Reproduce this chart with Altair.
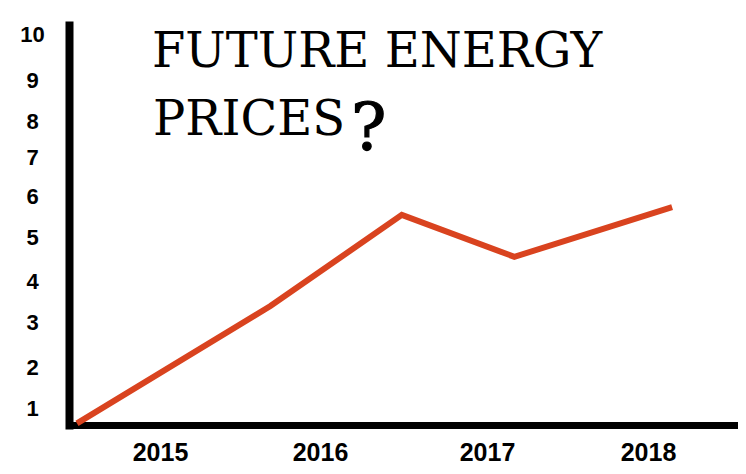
import altair as alt
import pandas as pd

# Data
years = [2014.48, 2015.69, 2016.49, 2017.17, 2018.15]
prices = [0.63, 3.39, 5.54, 4.55, 5.73]

x_ticks = [2015, 2016, 2017, 2018]
y_ticks = [1, 2, 3, 4, 5, 6, 7, 8, 9, 10]

# hand-drawn, uneven axis spacing (piecewise scales)
x_domain = [2014.43, 2015, 2016, 2017, 2018, 2018.56]
x_range = [0, 91, 251, 418, 579, 669]
y_domain = [0.59, 1, 2, 3, 4, 5, 6, 7, 8, 9, 10, 10.2]
y_range = [400, 383, 342, 297, 256, 212, 171, 132, 96, 55, 9, 0]

title_lines = ["FUTURE ENERGY", "PRICES"]
title_mark = "?"

W, H = 669, 400

df = pd.DataFrame({"year": years, "price": prices})

line = alt.Chart(df).mark_line(
    color="#d9431f", strokeWidth=6, strokeJoin="miter", strokeCap="butt"
).encode(
    x=alt.X("year:Q",
            scale=alt.Scale(domain=x_domain, range=x_range, zero=False, nice=False),
            axis=alt.Axis(values=x_ticks, format="d", title=None,
                          labelFontSize=25, labelBaseline="alphabetic",
                          labelPadding=35, domainWidth=7)),
    y=alt.Y("price:Q",
            scale=alt.Scale(domain=y_domain, range=y_range, zero=False, nice=False),
            axis=alt.Axis(values=y_ticks, format="d", title=None,
                          labelFontSize=22, labelAlign="center",
                          labelBaseline="middle", labelPadding=37, domainWidth=8)),
)

t1 = alt.Chart(pd.DataFrame({"t": [title_lines[0]]})).mark_text(
    font="DejaVu Serif", fontSize=48, align="left", baseline="alphabetic", color="black"
).encode(text="t:N", x=alt.value(83), y=alt.value(42))

t2 = alt.Chart(pd.DataFrame({"t": [title_lines[1]]})).mark_text(
    font="DejaVu Serif", fontSize=48, align="left", baseline="alphabetic", color="black"
).encode(text="t:N", x=alt.value(84), y=alt.value(110))

t3 = alt.Chart(pd.DataFrame({"t": [title_mark]})).mark_text(
    font="DejaVu Serif", fontSize=66, align="left",
    baseline="alphabetic", color="black", stroke="black", strokeWidth=1.2
).encode(text="t:N", x=alt.value(282), y=alt.value(125))

chart = alt.layer(line, t1, t2, t3).properties(
    width=W, height=H,
    autosize=alt.AutoSizeParams(type="none"),
    padding={"left": 61, "top": 17, "right": 0, "bottom": 41},
    background="white",
).configure_view(stroke=None).configure_axis(
    grid=False, ticks=False, tickSize=0, domainColor="black", domainCap="square",
    labelFont="Liberation Sans", labelFontWeight="bold", labelColor="black",
    labelOverlap=False, labelFlush=False,
)

chart.save("out.html", embed_options={"renderer": "svg", "actions": False})
